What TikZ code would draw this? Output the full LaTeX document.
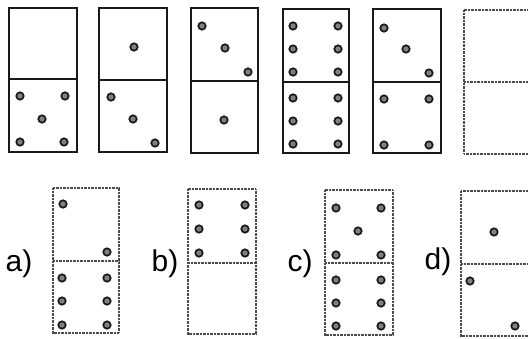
\documentclass[tikz,border=0pt]{standalone}
\usepackage{fontspec}
\setmainfont{Liberation Sans}
\newcommand\dpip[2]{\draw[pipst] (#1,#2) circle[radius=3.7pt];}
\begin{document}
\begin{tikzpicture}[x=1pt,y=-1pt,
  solidbox/.style={draw=black!90, line width=2.8pt},
  soliddiv/.style={draw=black!90, line width=1.4pt},
  dotbox/.style={draw=black!70, line width=1.7pt, dash pattern=on 0.9pt off 0.5pt},
  pipst/.style={draw=black!90, line width=1.7pt, fill=black!50},
  lbl/.style={font=\fontsize{30}{32}\selectfont, inner sep=0pt, anchor=center}]
\useasboundingbox (0,0) rectangle (528,338);
\clip (0,0) rectangle (528,338);
% top row
\draw[solidbox] (9,8) rectangle (77,152);
\draw[soliddiv] (9,79) -- (77,79);
\dpip{20}{96}\dpip{65}{96}\dpip{42}{119}\dpip{20}{142}\dpip{64}{142}

\draw[solidbox] (99,8) rectangle (167,152);
\draw[soliddiv] (99,80) -- (167,80);
\dpip{134}{47}
\dpip{111}{97}\dpip{133}{119}\dpip{155}{143}

\draw[solidbox] (191,8) rectangle (258,153);
\draw[soliddiv] (191,81) -- (258,81);
\dpip{202}{26}\dpip{225}{48}\dpip{248}{72}
\dpip{224}{120}

\draw[solidbox] (283,9) rectangle (349,153);
\draw[soliddiv] (283,82) -- (349,82);
\dpip{293}{26}\dpip{338}{26}\dpip{293}{49}\dpip{338}{49}\dpip{293}{72}\dpip{338}{72}
\dpip{293}{98}\dpip{338}{98}\dpip{293}{121}\dpip{338}{121}\dpip{293}{144}\dpip{338}{144}

\draw[solidbox] (373,9) rectangle (441,153);
\draw[soliddiv] (373,82) -- (441,82);
\dpip{384}{28}\dpip{406}{49}\dpip{429}{73}
\dpip{384}{99}\dpip{429}{99}\dpip{384}{145}\dpip{429}{145}

\draw[dotbox] (464,10) rectangle (533,154);
\draw[dotbox] (464,82) -- (533,82);

% bottom row
\node[lbl] (la) at (19,264) {a)};
\draw[dotbox] (53,188) rectangle (119,333);
\draw[dotbox] (53,261) -- (119,261);
\dpip{63}{204}\dpip{107}{252}
\dpip{62}{278}\dpip{107}{278}\dpip{62}{301}\dpip{107}{301}\dpip{62}{325}\dpip{107}{325}

\node[lbl] (lb) at (165,264) {b)};
\draw[dotbox] (188,189) rectangle (256,334);
\draw[dotbox] (188,263) -- (256,263);
\dpip{199}{205}\dpip{245}{205}\dpip{199}{229}\dpip{245}{229}\dpip{199}{253}\dpip{245}{253}

\node[lbl] (lc) at (300,264) {c)};
\draw[dotbox] (325,190) rectangle (393,335);
\draw[dotbox] (325,263) -- (393,263);
\dpip{336}{208}\dpip{381}{208}\dpip{358}{231}\dpip{336}{255}\dpip{381}{255}
\dpip{336}{280}\dpip{381}{280}\dpip{336}{303}\dpip{381}{303}\dpip{336}{326}\dpip{381}{326}

\node[lbl] (ld) at (438,262) {d)};
\draw[dotbox] (461,191) rectangle (530,336);
\draw[dotbox] (461,264) -- (530,264);
\dpip{494}{232}
\dpip{470}{281}\dpip{515}{326}
\end{tikzpicture}
\end{document}
